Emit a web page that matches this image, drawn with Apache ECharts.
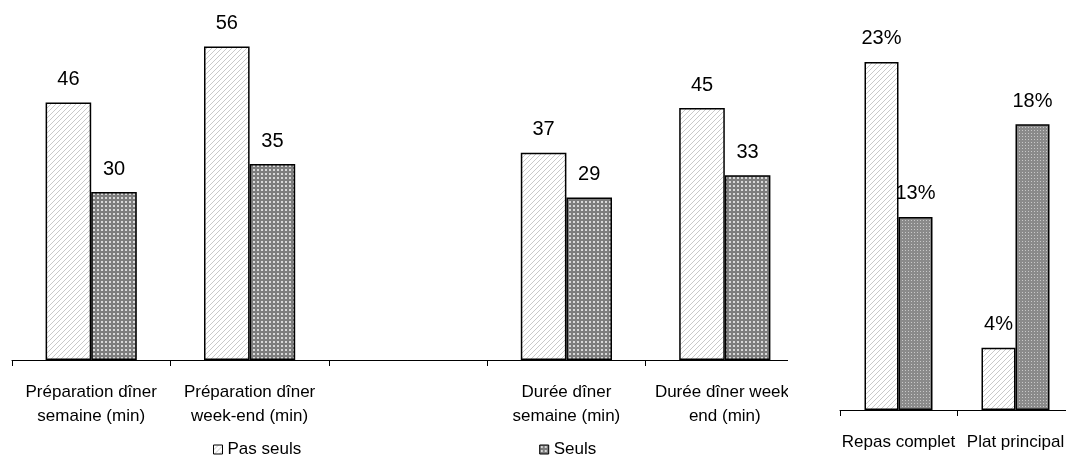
<!DOCTYPE html>
<html>
<head>
<meta charset="utf-8">
<script src="https://cdn.jsdelivr.net/npm/echarts@6/dist/echarts.min.js"></script>
<style>
  html, body { margin: 0; padding: 0; background: #fff; }
  #wrap { position: relative; width: 1066px; height: 460px; overflow: hidden; }
  #leftClip { position: absolute; left: 0; top: 0; width: 788px; height: 460px; overflow: hidden; }
  #left { position: absolute; left: 0; top: 0; width: 840px; height: 460px; }
  #right { position: absolute; left: 790px; top: 0; width: 310px; height: 460px; }
</style>
</head>
<body>
<div id="wrap">
  <div id="leftClip"><div id="left"></div></div>
  <div id="right"></div>
</div>
<script>
// ---- Data ----
const seriesNames = ['Pas seuls', 'Seuls'];
const leftCategories = ['Préparation dîner\nsemaine (min)', 'Préparation dîner\nweek-end (min)', '', 'Durée dîner\nsemaine (min)', 'Durée dîner week-\nend (min)'];
const leftPasSeuls = [46, 56, null, 37, 45];
const leftSeuls = [30, 35, null, 29, 33];
const rightCategories = ['Repas complet', 'Plat principal'];
const rightPasSeuls = [22.9, 4.1];
const rightSeuls = [12.7, 18.8];
const rightPasSeulsLabels = ['23%', '4%'];
const rightSeulsLabels = ['13%', '18%'];

// ---- Patterns ----
function hatch() {
  const c = document.createElement('canvas');
  c.width = 5; c.height = 5;
  const g = c.getContext('2d');
  g.fillStyle = '#ffffff'; g.fillRect(0, 0, 5, 5);
  g.strokeStyle = '#c9c9c9'; g.lineWidth = 1;
  g.beginPath();
  g.moveTo(0, 5); g.lineTo(5, 0);
  g.moveTo(-1, 1); g.lineTo(1, -1);
  g.moveTo(4, 6); g.lineTo(6, 4);
  g.stroke();
  return c;
}
function dots(size, bg, fg, d) {
  const c = document.createElement('canvas');
  c.width = size; c.height = size;
  const g = c.getContext('2d');
  g.fillStyle = bg; g.fillRect(0, 0, size, size);
  g.fillStyle = fg; g.fillRect(1, 1, d, d);
  return c;
}
const hatchFill = { image: hatch(), repeat: 'repeat' };
const dotFill = { image: dots(4, '#7d7d7d', '#d8d8d8', 2), repeat: 'repeat' };
const dotFill2 = { image: dots(3, '#8a8a8a', '#c8c8c8', 1), repeat: 'repeat' };

const font = "'Liberation Sans', Arial, sans-serif";

const labelStyle = { show: true, position: 'top', distance: 13, color: '#000', fontSize: 20, fontFamily: font };
const axisLabelStyle = { interval: 0, margin: 20, fontSize: 17, lineHeight: 24, fontFamily: font, color: '#000' };

// ---- Left chart ----
const left = echarts.init(document.getElementById('left'), null, { renderer: 'canvas' });
left.setOption({
  animation: false,
  legend: {
    data: seriesNames,
    left: 208, top: 436,
    itemWidth: 9, itemHeight: 9, itemGap: 238,
    icon: 'rect',
    textStyle: { fontSize: 17, fontFamily: font, color: '#000' },
    itemStyle: { borderColor: '#000', borderWidth: 1 }
  },
  grid: { left: 12, top: 24, width: 792, height: 336 },
  xAxis: {
    type: 'category',
    data: leftCategories,
    axisLine: { lineStyle: { color: '#000', width: 1 } },
    axisTick: { show: true, length: 6, lineStyle: { color: '#000' } },
    axisLabel: axisLabelStyle
  },
  yAxis: { type: 'value', min: 0, max: 60, show: false, splitLine: { show: false } },
  series: [
    {
      name: seriesNames[0], type: 'bar', data: leftPasSeuls,
      barWidth: 45.6, barGap: '0%',
      itemStyle: { color: hatchFill, borderColor: '#000', borderWidth: 1.5 },
      label: labelStyle
    },
    {
      name: seriesNames[1], type: 'bar', data: leftSeuls,
      barWidth: 45.6, barGap: '0%',
      itemStyle: { color: dotFill, borderColor: '#000', borderWidth: 1.5 },
      label: labelStyle
    }
  ]
});

// ---- Right chart ----
const right = echarts.init(document.getElementById('right'), null, { renderer: 'canvas' });
right.setOption({
  animation: false,
  grid: { left: 50, top: 30, width: 234, height: 380 },
  xAxis: {
    type: 'category',
    data: rightCategories,
    axisLine: { lineStyle: { color: '#000', width: 1 } },
    axisTick: { show: true, length: 6, lineStyle: { color: '#000' } },
    axisLabel: axisLabelStyle
  },
  yAxis: { type: 'value', min: 0, max: 25, show: false, splitLine: { show: false } },
  series: [
    {
      name: seriesNames[0], type: 'bar', data: rightPasSeuls,
      barWidth: 34, barGap: '0%',
      itemStyle: { color: hatchFill, borderColor: '#000', borderWidth: 1.5 },
      label: Object.assign({}, labelStyle, { formatter: p => rightPasSeulsLabels[p.dataIndex] })
    },
    {
      name: seriesNames[1], type: 'bar', data: rightSeuls,
      barWidth: 34, barGap: '0%',
      itemStyle: { color: dotFill2, borderColor: '#000', borderWidth: 1.5 },
      label: Object.assign({}, labelStyle, { formatter: p => rightSeulsLabels[p.dataIndex] })
    }
  ]
});
</script>
</body>
</html>
